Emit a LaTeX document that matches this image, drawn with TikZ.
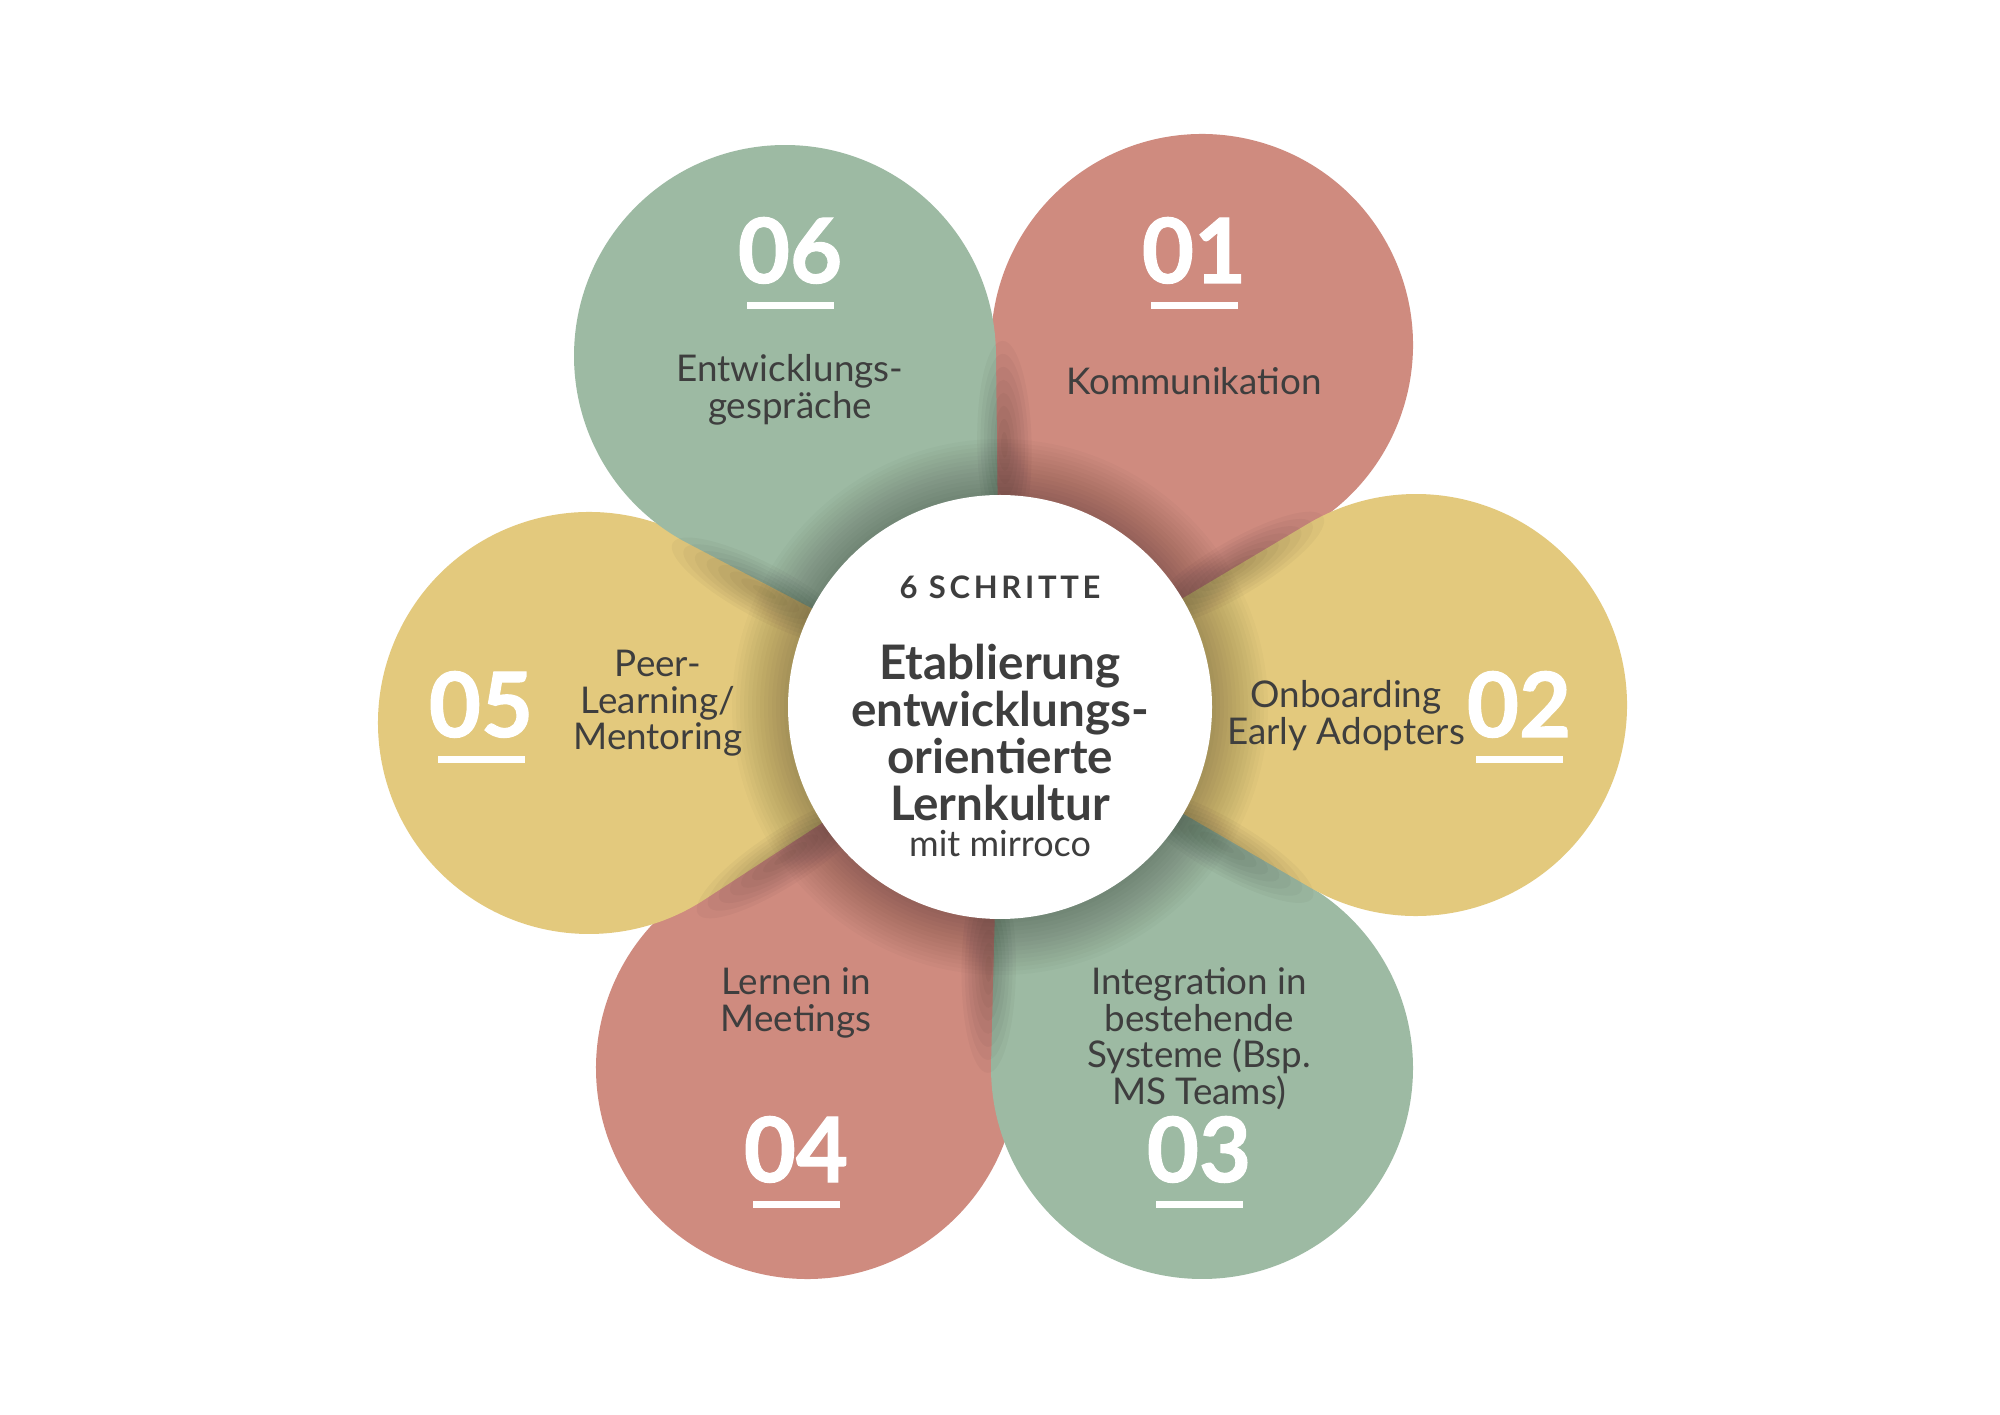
\documentclass[tikz,border=0pt]{standalone}
\usepackage{fontspec}
\setmainfont{Lato}
\usetikzlibrary{calc}
\definecolor{cGreen}{HTML}{9DBAA3}
\definecolor{cRed}{HTML}{CF8B7F}
\definecolor{cYellow}{HTML}{E3C97D}
\definecolor{cText}{HTML}{3E3E3E}
\begin{document}
\begin{tikzpicture}[x=0.5pt,y=0.5pt,
  num/.style={text=white, font=\fontsize{45}{45}\selectfont\bfseries\addfontfeatures{FakeBold=1.2}, inner sep=0, anchor=base},
  lbl/.style={text=cText, font=\fontsize{18.4}{18.4}\selectfont, inner sep=0, anchor=base},
  ttl/.style={text=cText, font=\fontsize{23.8}{23.8}\selectfont\bfseries, inner sep=0, anchor=base},
  bar/.style={fill=white, minimum width=43.5pt, minimum height=3.5pt, inner sep=0},
  shade/.style={fill=black, opacity=#1},
]
\fill[white] (0,0) rectangle (2000,1414);
\useasboundingbox (0,0) rectangle (2000,1414);
\coordinate (O) at (1000,707);
\coordinate (C1) at (1202,1069);
\coordinate (C2) at (1416,709);
\coordinate (C3) at (1202,346);
\coordinate (C4) at (807,346);
\coordinate (C5) at (589,691);
\coordinate (C6) at (785,1058);
\def\R{211}
% petals (teardrops with their tip at the centre)
\foreach \c/\col in {C4/cRed, C3/cGreen, C1/cRed, C2/cYellow, C5/cYellow, C6/cGreen}{
  \fill[\col] let \p1=($(\c)-(O)$), \n1={atan2(\y1,\x1)}, \n2={asin(105.5/veclen(\x1,\y1))} in
    (O) -- ($(\c)+(\n1-90-\n2:\R)$) arc[start angle=\n1-90-\n2, delta angle=180+2*\n2, radius=\R] -- cycle;
}
% soft shadows along the seams and round the centre
\begin{scope}
\clip (O) circle[radius=380];
\foreach \ang/\s in {91/-1, 30.5/0, -30/-1, -90.5/-1, -147/1, 152/1}{
  \coordinate (P) at ($(O)+(\ang:262)+(\ang+90*\s:9)$);
  \foreach \k in {1,...,8}{
    \fill[shade=.03, rotate around={\ang:(P)}] (P) ellipse[x radius=13*\k, y radius=3.4*\k];
  }
}
\foreach \i in {1,...,14}{
  \fill[shade=.02] (O) circle[radius=212+4*\i];
}
\end{scope}
% centre disc
\node[circle, fill=white, minimum size=212pt, inner sep=0] (hub) at (O) {};
\node[text=cText, font=\fontsize{15.5}{15.5}\selectfont\bfseries\addfontfeatures{LetterSpace=12}, inner sep=0, anchor=base] (steps) at (1000,815) {6 SCHRITTE};
\node[ttl] (t1) at (1000,734) {Etablierung};
\node[ttl] (t2) at (1000,687) {entwicklungs-};
\node[ttl] (t3) at (1000,640) {orientierte};
\node[ttl] (t4) at (1000,593) {Lernkultur};
\node[text=cText, font=\fontsize{18}{18}\selectfont, inner sep=0, anchor=base] (t5) at (1000,557) {mit mirroco};
% 01
\node[num] (n1) at (1194,1131) {01};
\node[bar] (b1) at (1194,1108) {};
\node[lbl] (l1) at (1194,1019) {Kommunikation};
% 02
\node[num] (n2) at (1519,677) {02};
\node[bar] (b2) at (1519,654) {};
\node[lbl] (l2a) at (1346,706) {Onboarding};
\node[lbl] (l2b) at (1346,669) {Early Adopters};
% 03
\node[num] (n3) at (1199,232) {03};
\node[bar] (b3) at (1199,210) {};
\node[lbl] (l3a) at (1199,420) {Integration in};
\node[lbl] (l3b) at (1199,383) {bestehende};
\node[lbl] (l3c) at (1199,347) {Systeme (Bsp.};
\node[lbl] (l3d) at (1199,310) {MS Teams)};
% 04
\node[num] (n4) at (796,232) {04};
\node[bar] (b4) at (796,210) {};
\node[lbl] (l4a) at (796,420) {Lernen in};
\node[lbl] (l4b) at (796,383) {Meetings};
% 05
\node[num] (n5) at (481,677) {05};
\node[bar] (b5) at (481,654) {};
\node[lbl] (l5a) at (658,737) {Peer-};
\node[lbl] (l5b) at (658,700) {Learning/};
\node[lbl] (l5c) at (658,664) {Mentoring};
% 06
\node[num] (n6) at (790,1131) {06};
\node[bar] (b6) at (790,1108) {};
\node[lbl] (l6a) at (790,1032) {Entwicklungs-};
\node[lbl] (l6b) at (790,995) {gespräche};
\end{tikzpicture}
\end{document}
